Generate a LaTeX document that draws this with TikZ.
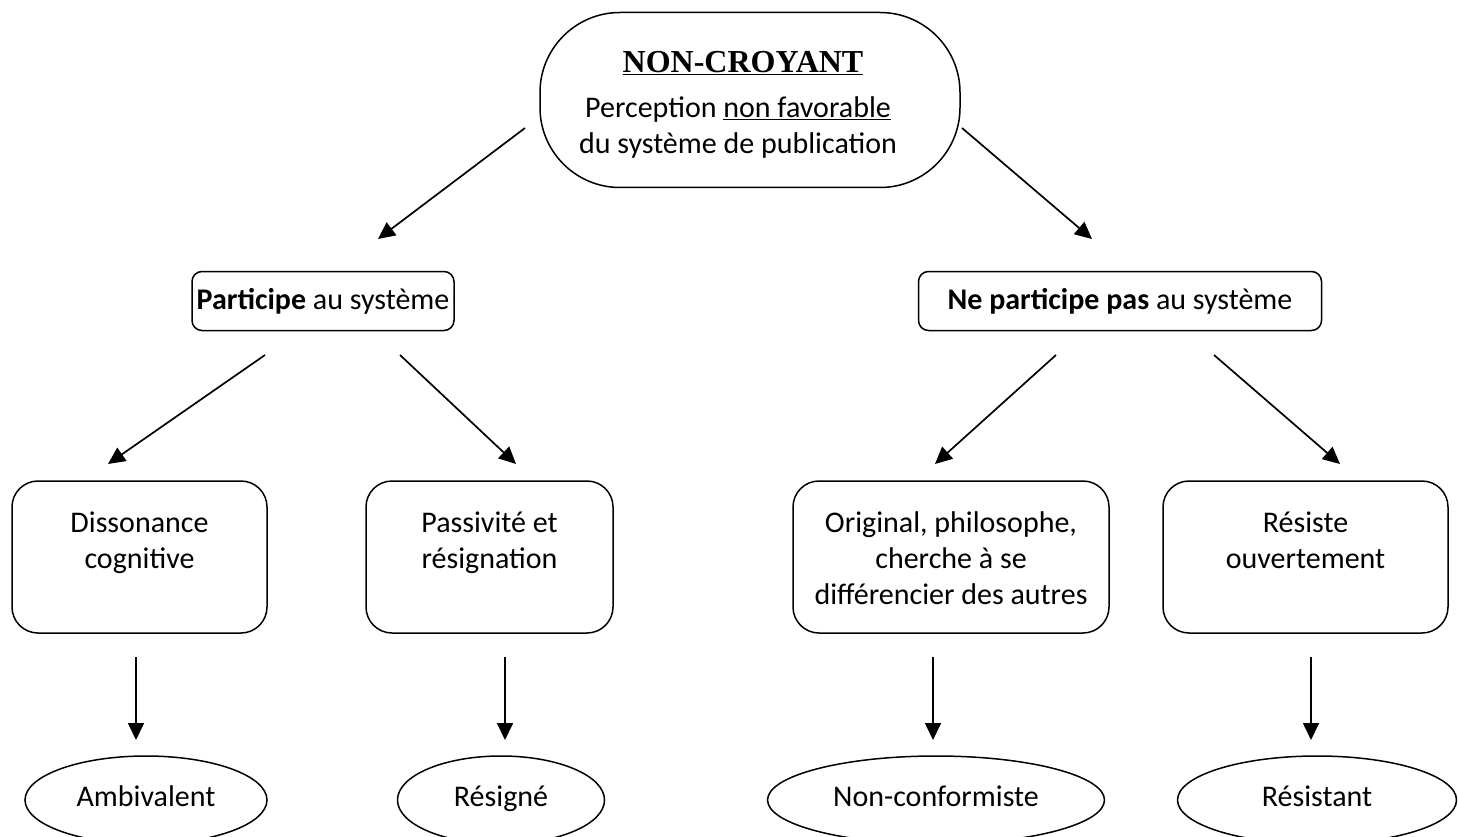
\documentclass[tikz,border=0pt]{standalone}
\usepackage{fontspec}
\setmainfont{Carlito}
\newfontfamily\titlefont{Liberation Serif}
\usetikzlibrary{arrows.meta,shapes.geometric}
\begin{document}
\begin{tikzpicture}[x=1pt,y=-1pt,
  every node/.style={font=\fontsize{30}{36}\selectfont, align=center, inner sep=0pt},
  lvltwo/.style={draw, line width=1.5pt, rounded corners=10pt, minimum height=59pt},
  lvlthree/.style={draw, line width=1.5pt, rounded corners=26pt, minimum height=152pt},
  boxtext/.style={anchor=north, yshift=-31pt},
  profil/.style={draw, ellipse, line width=1.5pt, minimum height=88pt, text height=20pt, text depth=7pt},
  fleche/.style={line width=1.7pt, -{Triangle[length=17pt,width=16pt]}}]
\useasboundingbox (0,0) rectangle (1458,837);

% top node
\node[draw, line width=1.5pt, rounded corners=80pt, minimum width=420pt, minimum height=175pt] (top) at (750,100) {};
\node[font=\titlefont\bfseries\fontsize{32}{36}\selectfont] (titre) at (743,63) {\underline{NON-CROYANT}};
\node (perc) at (738,128) {Perception \underline{non favorable}\\du système de publication};

% second level
\node[lvltwo, minimum width=262pt] (part) at (323,301) {\textbf{Participe} au système};
\node[lvltwo, minimum width=403pt] (nepart) at (1120,301) {\textbf{Ne participe pas} au système};

% third level: boxes, with their text set from the top
\node[lvlthree, minimum width=255pt] (diss) at (139.5,557) {};
\node[lvlthree, minimum width=247pt] (pass) at (489.5,557) {};
\node[lvlthree, minimum width=316pt] (orig) at (951,557) {};
\node[lvlthree, minimum width=285pt] (resi) at (1305.5,557) {};
\node[boxtext] (dissT) at (diss.north) {Dissonance\\cognitive};
\node[boxtext] (passT) at (pass.north) {Passivité et\\résignation};
\node[boxtext] (origT) at (orig.north) {Original, philosophe,\\cherche à se\\différencier des autres};
\node[boxtext] (resiT) at (resi.north) {Résiste\\ouvertement};

% profiles
\node[profil, minimum width=242pt] (ambi) at (146,800) {Ambivalent};
\node[profil, minimum width=207pt] (resg) at (501,800) {Résigné};
\node[profil, minimum width=337pt] (nonc) at (936,800) {Non-conformiste};
\node[profil, minimum width=279pt] (rest) at (1317,800) {Résistant};

% arrow end points
\coordinate (t1) at (525,128);  \coordinate (h1) at (378,239);
\coordinate (t2) at (962,128);  \coordinate (h2) at (1092,239);
\coordinate (t3) at (265,355);  \coordinate (h3) at (108,464);
\coordinate (t4) at (400,355);  \coordinate (h4) at (516,464);
\coordinate (t5) at (1056,355); \coordinate (h5) at (935,464);
\coordinate (t6) at (1214,355); \coordinate (h6) at (1340,464);
\coordinate (t7) at (136,657);  \coordinate (h7) at (136,740);
\coordinate (t8) at (505,657);  \coordinate (h8) at (505,740);
\coordinate (t9) at (933,657);  \coordinate (h9) at (933,740);
\coordinate (t10) at (1311,657); \coordinate (h10) at (1311,740);

\foreach \i in {1,...,10} \draw[fleche] (t\i) -- (h\i);
\end{tikzpicture}
\end{document}
